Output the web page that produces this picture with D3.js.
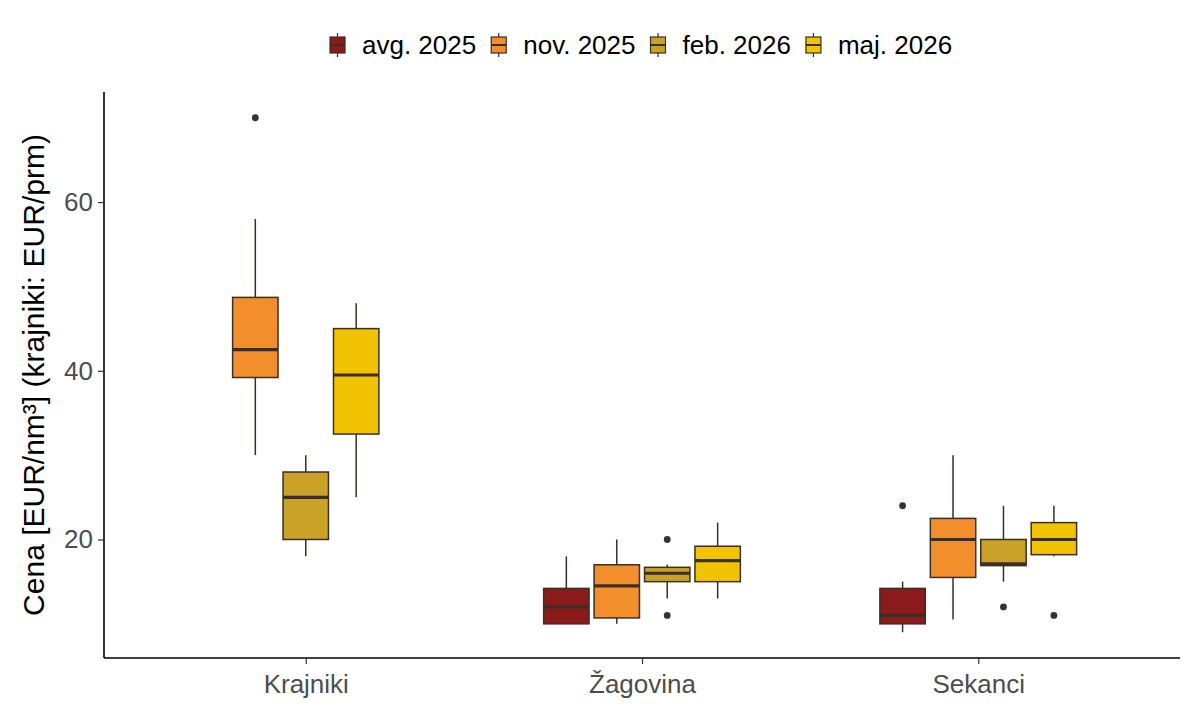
<!DOCTYPE html>
<html>
<head>
<meta charset="utf-8">
<script src="https://cdn.jsdelivr.net/npm/d3@7"></script>
<style>
	body { margin: 0; background: #fff; }
	svg { font-family: "Liberation Sans", Arial, sans-serif; }
</style>
</head>
<body>
<svg id="chart" width="1200" height="720"></svg>
<script>
const categories = ["Krajniki", "Žagovina", "Sekanci"];
const seriesNames = ["avg. 2025", "nov. 2025", "feb. 2026", "maj. 2026"];
const seriesColors = ["#8b1a1a", "#f28e2b", "#c9a227", "#f2c300"];

// [spodnji brk, Q1, mediana, Q3, zgornji brk] po kategorijah, null = ni podatka
const avg2025 = [null, [10, 10, 12, 14.2, 18], [9, 10, 11, 14.2, 15]];
const nov2025 = [[30, 39.2, 42.5, 48.7, 58], [10, 10.7, 14.5, 17, 20], [10.5, 15.5, 20, 22.5, 30]];
const feb2026 = [[18, 20, 25, 28, 30], [13, 15, 16, 16.7, 17], [15, 16.9, 17.1, 20, 24]];
const maj2026 = [[25, 32.5, 39.5, 45, 48], [13, 15, 17.5, 19.2, 22], [18, 18.2, 20, 22, 24]];

// osamelci
const avg2025Out = [[], [], [24]];
const nov2025Out = [[70], [], []];
const feb2026Out = [[], [11, 20], [12]];
const maj2026Out = [[], [], [11]];

const yTicks = [20, 40, 60];

const stats = [avg2025, nov2025, feb2026, maj2026];
const outliers = [avg2025Out, nov2025Out, feb2026Out, maj2026Out];

let svg = d3.select("#chart");
let plotLeft = 104, plotRight = 1180, plotTop = 92, plotBottom = 658;

let x = d3.scalePoint().domain(categories).range([plotLeft, plotRight]).padding(0.6);
let y = d3.scaleLinear().domain([5.95, 73.05]).range([plotBottom, plotTop]);

let slot = x.step() * 0.15;
let boxW = slot * 0.9;
let stroke = "#3a2f22";

/* ---------------- boxes ---------------- */

categories.forEach((cat, ci) => {
	let present = stats.map((s, si) => si).filter(si => stats[si][ci]);
	present.forEach((si, k) => {
		let cx = x(cat) + (k - (present.length - 1) / 2) * slot;
		let [lo, q1, med, q3, hi] = stats[si][ci];
		let g = svg.append("g");

		g.append("line")
			.attr("x1", cx).attr("x2", cx)
			.attr("y1", y(hi)).attr("y2", y(q3))
			.attr("stroke", stroke).attr("stroke-width", 1.5);
		g.append("line")
			.attr("x1", cx).attr("x2", cx)
			.attr("y1", y(q1)).attr("y2", y(lo))
			.attr("stroke", stroke).attr("stroke-width", 1.5);
		g.append("rect")
			.attr("x", cx - boxW / 2)
			.attr("y", y(q3))
			.attr("width", boxW)
			.attr("height", y(q1) - y(q3))
			.attr("fill", seriesColors[si])
			.attr("stroke", stroke).attr("stroke-width", 1.5);
		g.append("line")
			.attr("x1", cx - boxW / 2).attr("x2", cx + boxW / 2)
			.attr("y1", y(med)).attr("y2", y(med))
			.attr("stroke", stroke).attr("stroke-width", 3.2);

		g.selectAll("circle")
			.data(outliers[si][ci])
			.enter().append("circle")
			.attr("cx", cx)
			.attr("cy", d => y(d))
			.attr("r", 3.4)
			.attr("fill", "#333");
	});
});

/* ---------------- axes ---------------- */

let xAxis = svg.append("g")
	.attr("transform", "translate(0," + plotBottom + ")")
	.call(d3.axisBottom(x).tickSize(6).tickPadding(11));
xAxis.select(".domain").attr("stroke", "#000").attr("stroke-width", 1.6)
	.attr("d", "M" + plotLeft + ",0H" + plotRight);
xAxis.selectAll(".tick line").attr("stroke", "#333").attr("stroke-width", 1.2);
xAxis.selectAll(".tick text").attr("fill", "#4d4d4d").attr("font-size", 26)
	.attr("dy", "0.71em");

let yAxis = svg.append("g")
	.attr("transform", "translate(" + plotLeft + ",0)")
	.call(d3.axisLeft(y).tickValues(yTicks).tickSize(6).tickPadding(5));
yAxis.select(".domain").attr("stroke", "#000").attr("stroke-width", 1.6)
	.attr("d", "M0," + plotTop + "V" + plotBottom);
yAxis.selectAll(".tick line").attr("stroke", "#333").attr("stroke-width", 1.2);
yAxis.selectAll(".tick text").attr("fill", "#4d4d4d").attr("font-size", 26);

svg.append("text")
	.attr("transform", "translate(44," + ((plotTop + plotBottom) / 2) + ") rotate(-90)")
	.attr("text-anchor", "middle")
	.attr("font-size", 30)
	.attr("fill", "#000")
	.text("Cena [EUR/nm³] (krajniki: EUR/prm)");

/* ---------------- legend ---------------- */

let legend = svg.append("g");
let lx = 330, ly = 45;
seriesNames.forEach((name, i) => {
	let g = legend.append("g").attr("transform", "translate(" + lx + "," + ly + ")");
	g.append("line").attr("x1", 7.5).attr("x2", 7.5).attr("y1", -12).attr("y2", 12)
		.attr("stroke", stroke).attr("stroke-width", 1.2);
	g.append("rect").attr("x", 0).attr("y", -8).attr("width", 15).attr("height", 16)
		.attr("fill", seriesColors[i]).attr("stroke", stroke).attr("stroke-width", 1.2);
	g.append("line").attr("x1", 0).attr("x2", 15).attr("y1", 0).attr("y2", 0)
		.attr("stroke", stroke).attr("stroke-width", 2);
	let t = g.append("text")
		.attr("x", 32).attr("y", 0).attr("dy", "0.35em")
		.attr("font-size", 26).attr("fill", "#000")
		.text(name);
	lx += 32 + t.node().getComputedTextLength() + 15;
});
</script>
</body>
</html>
